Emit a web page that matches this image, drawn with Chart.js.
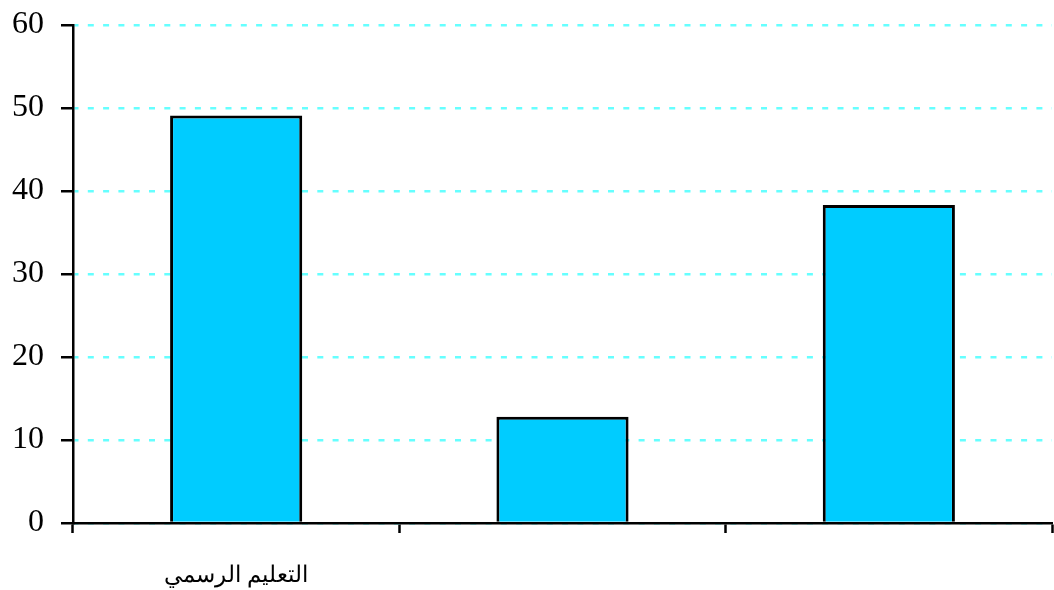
<!DOCTYPE html>
<html>
<head>
<meta charset="utf-8">
<script src="https://cdn.jsdelivr.net/npm/chart.js@4/dist/chart.umd.min.js"></script>
<style>
html,body{margin:0;padding:0;background:#fff;}
#wrap{width:1054px;height:590px;position:relative;}
</style>
</head>
<body>
<div id="wrap"><canvas id="c" width="1054" height="590"></canvas></div>
<script>
const categories = ['التعليم الرسمي', '', ''];
const values = [49.1, 12.8, 38.3];
const yTicks = [0, 10, 20, 30, 40, 50, 60];

new Chart(document.getElementById('c'), {
  type: 'bar',
  data: {
    labels: categories,
    datasets: [{
      data: values,
      backgroundColor: '#00CCFF',
      borderColor: '#000000',
      borderWidth: 3,
      categoryPercentage: 0.405,
      barPercentage: 1.0
    }]
  },
  options: {
    responsive: false,
    animation: false,
    devicePixelRatio: 1,
    layout: { padding: { top: 25, right: 2, left: 0, bottom: 0 } },
    plugins: { legend: { display: false }, tooltip: { enabled: false } },
    scales: {
      x: {
        grid: {
          display: true,
          offset: true,
          drawOnChartArea: false,
          drawTicks: true,
          tickLength: 10,
          tickColor: '#000',
          tickWidth: 2.5
        },
        border: { display: true, color: '#000', width: 2.5 },
        ticks: {
          color: '#000',
          font: { family: '"Liberation Serif", "DejaVu Serif", serif', size: 23 },
          padding: 29,
          maxRotation: 0,
          autoSkip: false
        },
        afterFit: (s) => { s.height = 67; s.paddingLeft = 0; s.paddingRight = 0; }
      },
      y: {
        min: 0,
        max: 60,
        afterBuildTicks: (s) => { s.ticks = yTicks.map(v => ({ value: v })); },
        grid: {
          color: '#66FFFF',
          lineWidth: 2.5,
          drawTicks: true,
          tickLength: 12,
          tickColor: '#000',
          tickWidth: 2.5,
          tickBorderDash: []
        },
        border: { display: true, color: '#000', width: 2.5, dash: [6, 9.3], dashOffset: 2 },
        ticks: {
          color: '#000',
          font: { family: '"Liberation Serif", "Times New Roman", serif', size: 32 },
          padding: 17
        },
        afterFit: (s) => { s.width = 73; s.paddingTop = 0; s.paddingBottom = 0; }
      }
    }
  }
});
</script>
</body>
</html>
